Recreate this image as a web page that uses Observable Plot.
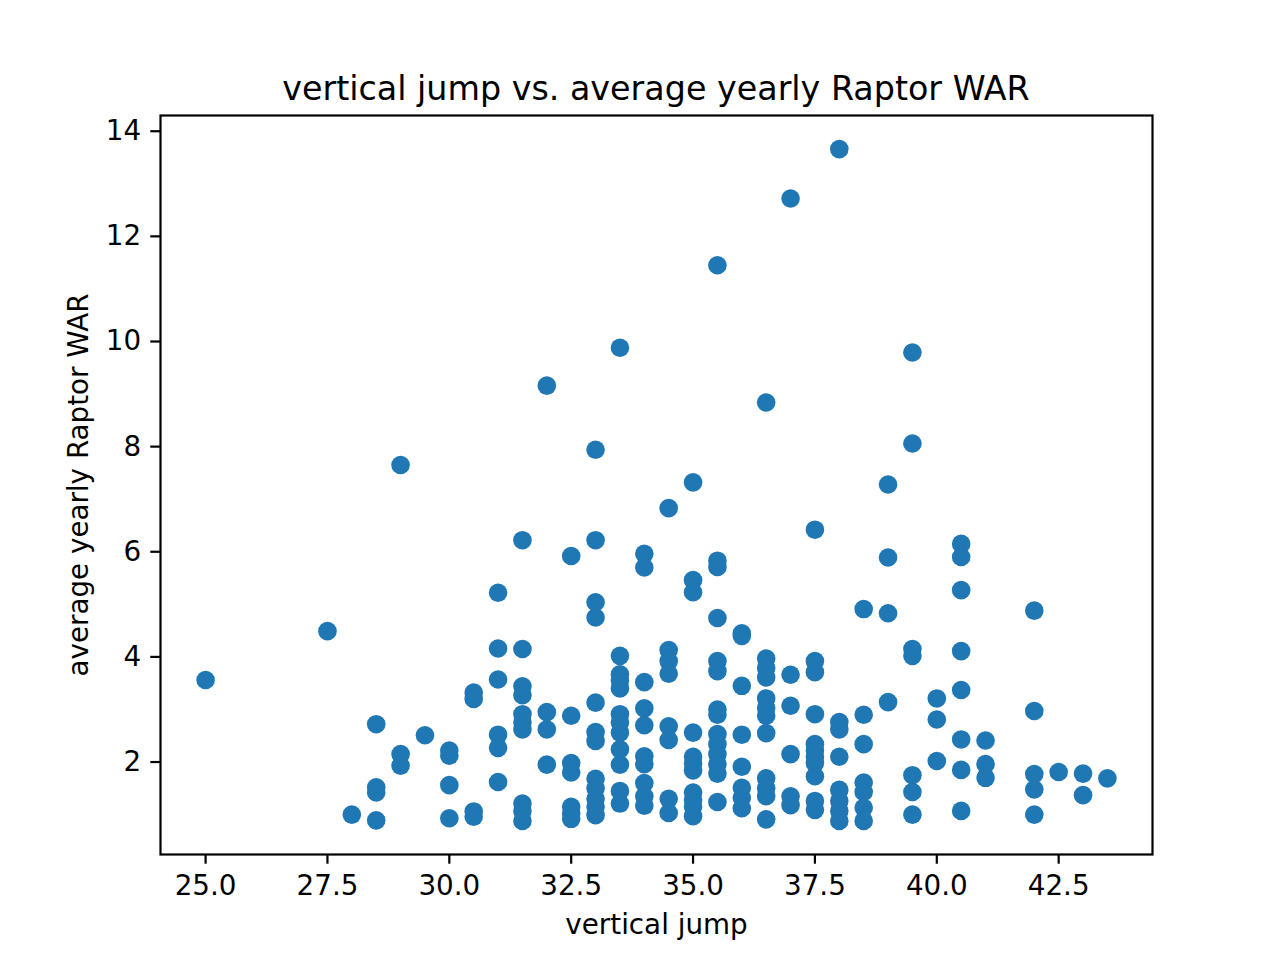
<!DOCTYPE html>
<html><head><meta charset="utf-8">
<script src="https://cdn.jsdelivr.net/npm/d3@7"></script>
<script src="https://cdn.jsdelivr.net/npm/@observablehq/plot@0.6"></script>
<style>
html,body{margin:0;padding:0;background:#fff;}
#wrap{width:1280px;height:960px;overflow:hidden;font-family:"DejaVu Sans",sans-serif;background:#fff;}
#title{box-sizing:border-box;height:105px;padding-top:72px;width:1280px;font-size:33.33px;line-height:33.33px;color:#000;}
#title span{display:block;margin-left:160px;width:992px;text-align:center;white-space:nowrap;}
#chart svg{display:block;}
</style></head><body>
<div id="wrap"><div id="title"><span>vertical jump vs. average yearly Raptor WAR</span></div><div id="chart"></div></div>
<script>
// vertical jump values (one per column of dots)
const jumpValues = [25.0, 27.5, 28.0, 28.5, 29.0, 29.5, 30.0, 30.5, 31.0, 31.5, 32.0, 32.5, 33.0, 33.5, 34.0, 34.5, 35.0, 35.5, 36.0, 36.5, 37.0, 37.5, 38.0, 38.5, 39.0, 39.5, 40.0, 40.5, 41.0, 42.0, 42.5, 43.0, 43.5];
// average yearly Raptor WAR for players at each vertical jump value
const warValues = [
  [3.56],
  [4.49],
  [1.00],
  [2.72, 1.52, 1.42, 0.89],
  [7.65, 2.15, 1.93],
  [2.51],
  [2.22, 2.12, 1.56, 0.93],
  [3.32, 3.20, 1.06, 0.96],
  [5.22, 4.16, 3.57, 2.52, 2.27, 1.62],
  [6.22, 4.15, 3.44, 3.27, 2.91, 2.75, 2.62, 1.21, 1.07, 0.88],
  [9.16, 2.95, 2.62, 1.95],
  [5.92, 2.88, 1.98, 1.80, 1.15, 1.02, 0.92],
  [7.94, 6.22, 5.04, 4.75, 3.13, 2.57, 2.40, 1.68, 1.50, 1.30, 1.15, 0.99],
  [9.88, 4.02, 3.67, 3.55, 3.40, 2.91, 2.75, 2.56, 2.24, 1.95, 1.45, 1.21],
  [5.96, 5.70, 3.52, 3.02, 2.70, 2.11, 1.96, 1.60, 1.35, 1.17],
  [6.83, 4.13, 3.92, 3.68, 2.68, 2.42, 1.30, 1.03],
  [7.32, 5.46, 5.23, 2.56, 2.10, 1.97, 1.84, 1.42, 1.28, 1.15, 0.97],
  [11.45, 5.83, 5.71, 4.74, 3.92, 3.73, 3.00, 2.90, 2.53, 2.34, 2.15, 1.96, 1.78, 1.24],
  [4.45, 4.40, 3.45, 2.52, 1.91, 1.51, 1.32, 1.12],
  [8.84, 3.97, 3.79, 3.61, 3.21, 3.03, 2.88, 2.55, 1.69, 1.50, 1.35, 0.91],
  [12.72, 3.66, 3.07, 2.15, 1.35, 1.18],
  [6.42, 3.92, 3.71, 2.91, 2.34, 2.22, 2.10, 1.98, 1.73, 1.26, 1.09],
  [13.66, 2.76, 2.62, 2.10, 1.47, 1.26, 1.07, 0.88],
  [4.91, 2.90, 2.34, 1.61, 1.43, 1.13, 0.88],
  [7.28, 5.89, 4.83, 3.14],
  [9.79, 8.06, 4.15, 4.02, 1.75, 1.43, 1.00],
  [3.21, 2.81, 2.02],
  [6.15, 5.90, 5.27, 4.11, 3.37, 2.43, 1.85, 1.07],
  [2.41, 1.96, 1.70],
  [4.88, 2.97, 1.77, 1.48, 1.00],
  [1.81],
  [1.78, 1.37],
  [1.69]
];
const xTicks = [25.0, 27.5, 30.0, 32.5, 35.0, 37.5, 40.0, 42.5];
const yTicks = [2, 4, 6, 8, 10, 12, 14];
const titleText = "vertical jump vs. average yearly Raptor WAR";
const xLabel = "vertical jump";
const yLabel = "average yearly Raptor WAR";

const points = jumpValues.flatMap((j, i) => warValues[i].map(w => ({jump: j, war: w})));
function padded(vals) {
  const [lo, hi] = d3.extent(vals);
  const m = (hi - lo) * 0.05;
  return [lo - m, hi + m];
}
const xDomain = padded(points.map(d => d.jump));
const yDomain = padded(points.map(d => d.war));

const fs = 27.78;
const chart = Plot.plot({
  width: 1280,
  height: 855,
  marginTop: 10,
  marginBottom: 106,
  marginLeft: 160,
  marginRight: 128,
  style: {fontFamily: "DejaVu Sans", fontSize: fs + "px", background: "white", color: "black", overflow: "visible"},
  x: {domain: xDomain},
  y: {domain: yDomain},
  marks: [
    Plot.dot(points, {x: "jump", y: "war", r: 9.3, fill: "#1f77b4", stroke: "none"}),
    Plot.frame({stroke: "black", strokeWidth: 2.2}),
    Plot.axisX({ticks: xTicks, tickFormat: d3.format(".1f"), tickSize: 9.7, tickPadding: 11, strokeWidth: 2.2,
      label: xLabel, labelAnchor: "center", labelOffset: 79, labelArrow: "none", fontSize: fs}),
    Plot.axisY({ticks: yTicks, tickFormat: d3.format("d"), tickSize: 9.7, tickPadding: 9.7, strokeWidth: 2.2,
      label: yLabel, labelAnchor: "center", labelOffset: 92, labelArrow: "none", fontSize: fs})
  ]
});
document.getElementById("chart").appendChild(chart);
</script>
</body></html>
